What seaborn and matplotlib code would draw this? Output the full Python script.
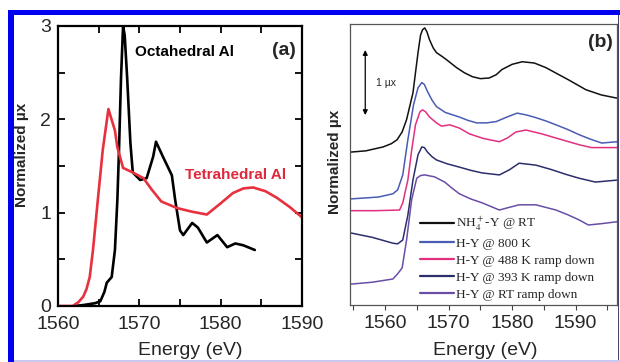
import matplotlib
matplotlib.use("Agg")
import matplotlib.pyplot as plt
from matplotlib.patches import Rectangle
from matplotlib.ticker import MultipleLocator
import pandas as pd
import seaborn as sns

# ---- Panel (a): Al K-edge reference spectra ----
oct_energy = [1562.0, 1563.1, 1564.55, 1565.2, 1565.7, 1566.0, 1566.6, 1567.0, 1567.3,
              1567.5, 1567.75, 1568.0, 1568.2, 1568.5, 1568.9, 1569.1, 1569.2, 1570.1,
              1570.9, 1571.7, 1572.05, 1572.9, 1574.0, 1574.4, 1575.0, 1575.4, 1576.5,
              1577.2, 1578.3, 1579.6, 1580.8, 1581.8, 1582.8, 1584.2]
oct_mu = [0.0, 0.01, 0.03, 0.05, 0.15, 0.25, 0.31, 0.6, 1.14,
          1.67, 2.45, 3.0, 2.9, 2.45, 1.75, 1.53, 1.43, 1.35,
          1.37, 1.6, 1.76, 1.6, 1.4, 1.14, 0.81, 0.76, 0.89,
          0.84, 0.68, 0.76, 0.63, 0.67, 0.65, 0.6]

tet_energy = [1560.0, 1561.8, 1562.5, 1563.1, 1563.5, 1563.9, 1564.3, 1564.9, 1565.5,
              1566.2, 1567.0, 1567.3, 1568.0, 1569.2, 1570.5, 1571.5, 1572.7, 1574.6,
              1576.5, 1578.3, 1580.0, 1581.5, 1582.8, 1584.0, 1585.5, 1586.9, 1588.5,
              1590.0]
tet_mu = [0.0, 0.0, 0.04, 0.1, 0.18, 0.31, 0.6, 1.14, 1.67,
          2.11, 1.88, 1.7, 1.48, 1.43, 1.37, 1.25, 1.12, 1.05,
          1.01, 0.98, 1.1, 1.21, 1.26, 1.27, 1.23, 1.16, 1.06,
          0.95]

site_labels = ["Octahedral Al", "Tetrahedral Al"]

# ---- Panel (b): H-Y zeolite series (stacked, 1 unit = 1 mu x) ----
nh4_energy = [1554.5, 1557.0, 1559.7, 1561.0, 1561.9, 1562.7, 1563.4, 1564.4, 1565.2,
              1565.6, 1565.9, 1566.25, 1566.6, 1567.0, 1567.6, 1568.1, 1569.0, 1569.7,
              1571.25, 1572.5, 1573.75, 1575.0, 1576.4, 1577.5, 1578.4, 1580.0, 1581.6,
              1583.5, 1585.3, 1587.0, 1588.9, 1591.6, 1594.0, 1596.5]
nh4_mu = [2.35, 2.37, 2.43, 2.48, 2.54, 2.66, 2.85, 3.26, 3.88,
          4.15, 4.23, 4.26, 4.2, 4.08, 3.95, 3.88, 3.82, 3.77,
          3.65, 3.57, 3.51, 3.48, 3.49, 3.54, 3.62, 3.70, 3.74,
          3.72, 3.65, 3.56, 3.46, 3.31, 3.23, 3.18]

hy800_energy = [1554.5, 1559.0, 1561.25, 1562.0, 1562.8, 1563.6, 1564.5, 1565.2, 1565.8,
                1566.2, 1566.7, 1567.4, 1568.1, 1569.5, 1571.7, 1573.0, 1574.4, 1576.0,
                1577.5, 1579.2, 1580.8, 1582.3, 1583.75, 1585.3, 1586.9, 1588.7,
                1590.5, 1592.3, 1594.1, 1596.5]
hy800_mu = [1.63, 1.66, 1.71, 1.77, 2.0, 2.54, 3.08, 3.34, 3.42,
            3.39, 3.28, 3.15, 3.05, 2.96, 2.89, 2.84, 2.8, 2.8,
            2.82, 2.89, 2.95, 2.92, 2.88, 2.83, 2.77, 2.70,
            2.62, 2.55, 2.49, 2.51]

hy488_energy = [1554.5, 1558.5, 1562.3, 1562.8, 1563.6, 1564.2, 1564.8, 1565.5, 1565.9,
                1566.4, 1567.0, 1568.1, 1568.9, 1570.2, 1571.7, 1573.3, 1575.5, 1578.0,
                1579.3, 1580.6, 1582.2, 1584.7, 1586.8, 1588.9, 1590.7, 1592.5, 1596.5]
hy488_mu = [1.45, 1.45, 1.46, 1.57, 1.92, 2.38, 2.77, 2.97, 3.0,
            2.97, 2.89, 2.80, 2.75, 2.77, 2.72, 2.63, 2.56, 2.51,
            2.57, 2.66, 2.69, 2.63, 2.57, 2.51, 2.46, 2.42, 2.42]

hy393_energy = [1554.5, 1558.0, 1561.25, 1562.0, 1562.8, 1563.6, 1564.4, 1565.2, 1565.8,
                1566.2, 1566.7, 1567.4, 1568.1, 1569.8, 1571.7, 1573.5, 1575.3, 1578.0,
                1579.6, 1581.1, 1583.75, 1586.25, 1588.4, 1590.5, 1593.1, 1596.5]
hy393_mu = [1.11, 1.04, 0.95, 0.94, 1.0, 1.38, 1.92, 2.31, 2.43,
            2.42, 2.35, 2.28, 2.23, 2.17, 2.12, 2.07, 2.03, 2.0,
            2.08, 2.18, 2.15, 2.08, 2.01, 1.95, 1.89, 1.92]

hyrt_energy = [1554.5, 1558.0, 1561.25, 1562.0, 1562.7, 1563.4, 1564.2, 1565.0, 1565.6,
               1566.25, 1567.8, 1569.4, 1570.5, 1571.7, 1573.5, 1575.3, 1578.0, 1579.5,
               1581.1, 1583.75, 1586.9, 1588.7, 1590.5, 1592.0, 1594.0, 1596.5]
hyrt_mu = [0.32, 0.35, 0.4, 0.48, 0.57, 1.0, 1.62, 1.95, 1.99,
           2.0, 1.97, 1.89, 1.8, 1.71, 1.63, 1.57, 1.46, 1.5,
           1.54, 1.54, 1.46, 1.39, 1.31, 1.23, 1.25, 1.28]

series_labels = ["NH$_4^+$-Y @ RT", "H-Y @ 800 K", "H-Y @ 488 K ramp down",
                 "H-Y @ 393 K ramp down", "H-Y @ RT ramp down"]
series_colors = ["#111111", "#4a5cb4", "#e2307e", "#2c2e6c", "#6a4ea6"]

# ---- tidy tables ----
df_a = pd.concat([
    pd.DataFrame({"Energy": oct_energy, "mu": oct_mu, "site": site_labels[0]}),
    pd.DataFrame({"Energy": tet_energy, "mu": tet_mu, "site": site_labels[1]}),
], ignore_index=True)

b_energies = [nh4_energy, hy800_energy, hy488_energy, hy393_energy, hyrt_energy]
b_values = [nh4_mu, hy800_mu, hy488_mu, hy393_mu, hyrt_mu]
df_b = pd.concat([
    pd.DataFrame({"Energy": e, "mu": m, "sample": lab})
    for e, m, lab in zip(b_energies, b_values, series_labels)
], ignore_index=True)

# ---- style ----
sns.set_style("ticks")
plt.rcParams["font.family"] = ["Liberation Sans", "DejaVu Sans"]
plt.rcParams["mathtext.fontset"] = "stix"

fig = plt.figure(figsize=(6.2, 3.62), dpi=100)
W, H = 620.0, 362.0

# page frame
fig.patches.append(Rectangle((8 / W, 0), 6 / W, 1 - 10 / H, transform=fig.transFigure,
                             facecolor="#0000f0", edgecolor="none", zorder=0))
fig.patches.append(Rectangle((8 / W, 1 - 15 / H), 1 - 8 / W, 5 / H, transform=fig.transFigure,
                             facecolor="#0000f0", edgecolor="none", zorder=0))
fig.patches.append(Rectangle((617.5 / W, 0), 1.5 / W, 1 - 15 / H, transform=fig.transFigure,
                             facecolor="#44446a", edgecolor="none", zorder=0))
fig.patches.append(Rectangle((14 / W, 0), 1 - 14 / W, 2 / H, transform=fig.transFigure,
                             facecolor="#c8c8f2", edgecolor="none", zorder=0))

ax_a = fig.add_axes([58 / W, 1 - 306 / H, 244 / W, 280 / H])
ax_b = fig.add_axes([350 / W, 1 - 305 / H, 267 / W, 281 / H])

# ---- panel (a) ----
sns.lineplot(data=df_a, x="Energy", y="mu", hue="site",
             palette={site_labels[0]: "black", site_labels[1]: "#e8313f"},
             sort=False, estimator=None, linewidth=1.9, legend=False, ax=ax_a)
ax_a.set_xlim(1560, 1590)
ax_a.set_ylim(0, 3)
ax_a.xaxis.set_major_locator(MultipleLocator(10))
ax_a.xaxis.set_minor_locator(MultipleLocator(5))
ax_a.yaxis.set_major_locator(MultipleLocator(1))
ax_a.yaxis.set_minor_locator(MultipleLocator(0.5))
ax_a.tick_params(which="both", direction="in", top=True, right=True,
                 length=5, width=1.3, color="black")
ax_a.tick_params(which="major", labelsize=14, pad=5)
ax_a.tick_params(which="major", axis="x", pad=7)
for s in ax_a.spines.values():
    s.set_linewidth(1.6)
    s.set_color("black")
ax_a.set_xlabel("Energy (eV)", fontsize=14)
ax_a.set_ylabel("Normalized \u00b5x", fontsize=11, fontweight="bold")
ax_a.xaxis.set_label_coords(0.54, -0.13)
ax_a.yaxis.set_label_coords(-0.117, 0.54)
ax_a.text(1569.5, 2.72, "Octahedral Al", fontsize=11, fontweight="bold",
          color="black", ha="left", va="center")
ax_a.text(1575.6, 1.40, "Tetrahedral Al", fontsize=11, fontweight="bold",
          color="#e0283c", ha="left", va="center")
ax_a.text(1589.3, 2.74, "(a)", fontsize=14, fontweight="bold", ha="right", va="center")

# ---- panel (b) ----
sns.lineplot(data=df_b, x="Energy", y="mu", hue="sample",
             palette=dict(zip(series_labels, series_colors)),
             hue_order=series_labels, sort=False, estimator=None,
             linewidth=1.1, ax=ax_b)
ax_b.set_xlim(1554.5, 1596.5)
ax_b.set_ylim(0, 4.32)
ax_b.xaxis.set_major_locator(MultipleLocator(10))
ax_b.xaxis.set_minor_locator(MultipleLocator(5))
ax_b.set_yticks([])
ax_b.tick_params(which="both", axis="x", direction="out", length=3.5, width=0.8,
                 color="#444444")
ax_b.tick_params(which="major", axis="x", labelsize=14, pad=4)
for s in ax_b.spines.values():
    s.set_linewidth(0.9)
    s.set_color("#555555")
ax_b.set_xlabel("Energy (eV)", fontsize=14)
ax_b.set_ylabel("Normalized \u00b5x", fontsize=11, fontweight="bold")
ax_b.xaxis.set_label_coords(0.506, -0.133)
ax_b.yaxis.set_label_coords(-0.03, 0.51)
ax_b.text(1595.9, 4.03, "(b)", fontsize=14, fontweight="bold", ha="right", va="center")

# 1 mu x scale bar
ax_b.annotate("", xy=(1556.9, 3.92), xytext=(1556.9, 2.92),
              arrowprops=dict(arrowstyle="<|-|>", color="black", lw=0.9,
                              mutation_scale=7, shrinkA=0, shrinkB=0))
ax_b.text(1558.6, 3.42, "1 \u00b5x", fontsize=7.5, ha="left", va="center")

leg = ax_b.legend(loc="upper left", bbox_to_anchor=(0.262, 0.322), frameon=False,
                  borderaxespad=0, borderpad=0, handlelength=2.6, handletextpad=0.15,
                  labelspacing=0.36, prop={"family": "Liberation Serif", "size": 9.5})
for line in leg.get_lines():
    line.set_linewidth(1.6)

fig.savefig("out.png", dpi=100)
